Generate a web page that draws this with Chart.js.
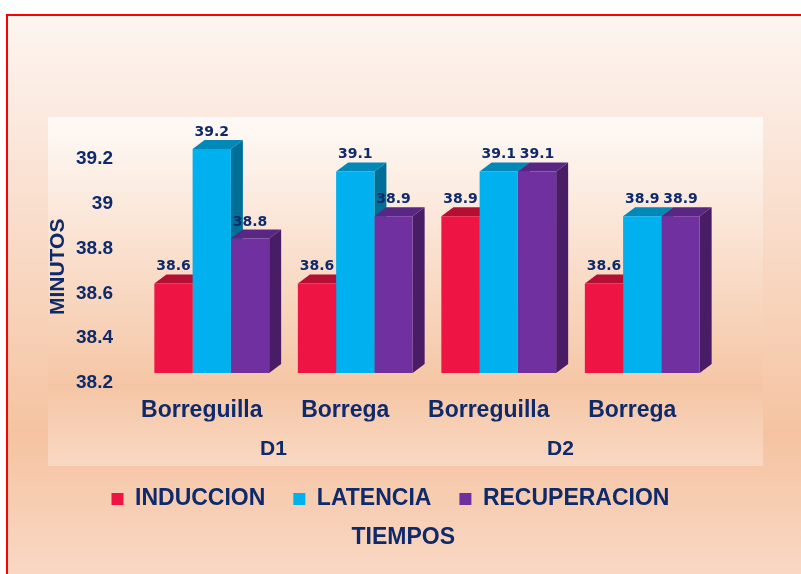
<!DOCTYPE html>
<html>
<head>
<meta charset="utf-8">
<script src="https://cdn.jsdelivr.net/npm/chart.js@4.4.0/dist/chart.umd.min.js"></script>
<style>
  html, body { margin: 0; padding: 0; background: #fff; }
  #wrap { width: 801px; height: 574px; }
</style>
</head>
<body>
<div id="wrap"><canvas id="tiemposChart" width="801" height="574"></canvas></div>
<script>
const categories = ['Borreguilla', 'Borrega', 'Borreguilla', 'Borrega'];
const groups = ['D1', 'D2'];
const induccion = [38.6, 38.6, 38.9, 38.6];
const latencia = [39.2, 39.1, 39.1, 38.9];
const recuperacion = [38.8, 38.9, 39.1, 38.9];
const yTicks = [38.2, 38.4, 38.6, 38.8, 39, 39.2];

const navy = '#0f2a6b';
const arial = '"Liberation Sans", Arial, sans-serif';
const depthX = 12, depthY = 9;

// page background, red frame and the lighter plot box
const background = {
    id: 'background',
    beforeDraw(chart) {
        const ctx = chart.ctx;
        const W = chart.width, H = chart.height;
        ctx.save();
        ctx.fillStyle = '#ffffff';
        ctx.fillRect(0, 0, W, H);
        let g = ctx.createLinearGradient(0, 15, 0, H);
        g.addColorStop(0, '#fdf5f0');
        g.addColorStop(0.2, '#fbe8dd');
        g.addColorStop(0.75, '#f5c3a1');
        g.addColorStop(1, '#f9d8c4');
        ctx.fillStyle = g;
        ctx.fillRect(7, 15, W - 7, H - 15);
        ctx.fillStyle = '#ff0000';
        ctx.fillRect(6, 14, W - 6, 2);
        ctx.fillRect(6, 14, 2, H - 14);
        g = ctx.createLinearGradient(0, 117, 0, 466);
        g.addColorStop(0, '#fefaf7');
        g.addColorStop(0.77, '#f5c6a5');
        g.addColorStop(1, '#f9d8c3');
        ctx.fillStyle = g;
        ctx.fillRect(48, 117, 715, 349);
        ctx.restore();
    }
};

// top and side faces of each bar, then value labels
const bars3d = {
    id: 'bars3d',
    beforeDatasetsDraw(chart) {
        const ctx = chart.ctx;
        ctx.save();
        for (let i = 0; i < chart.data.labels.length; i++) {
            chart.data.datasets.forEach((ds, d) => {
                const bar = chart.getDatasetMeta(d).data[i];
                const left = bar.x - bar.width / 2, right = bar.x + bar.width / 2;
                const top = bar.y, base = bar.base;
                ctx.fillStyle = ds.sideColor;
                ctx.beginPath();
                ctx.moveTo(right, top);
                ctx.lineTo(right + depthX, top - depthY);
                ctx.lineTo(right + depthX, base - depthY);
                ctx.lineTo(right, base);
                ctx.closePath();
                ctx.fill();
                ctx.fillStyle = ds.topColor;
                ctx.beginPath();
                ctx.moveTo(left, top);
                ctx.lineTo(left + depthX, top - depthY);
                ctx.lineTo(right + depthX, top - depthY);
                ctx.lineTo(right, top);
                ctx.closePath();
                ctx.fill();
            });
        }
        ctx.restore();
    },
    afterDatasetsDraw(chart) {
        const ctx = chart.ctx;
        ctx.save();
        ctx.font = 'bold 14px "DejaVu Sans", Verdana, sans-serif';
        ctx.fillStyle = navy;
        ctx.textAlign = 'center';
        ctx.textBaseline = 'alphabetic';
        chart.data.datasets.forEach((ds, d) => {
            chart.getDatasetMeta(d).data.forEach((bar, i) => {
                ctx.fillText(String(ds.data[i]), bar.x, bar.y - 13);
            });
        });
        ctx.restore();
    }
};

const data = {
    labels: categories,
    datasets: [{
        label: 'INDUCCION',
        data: induccion,
        backgroundColor: '#ee1443',
        topColor: '#b30f33',
        sideColor: '#9e0c2c'
    }, {
        label: 'LATENCIA',
        data: latencia,
        backgroundColor: '#00b0ef',
        topColor: '#0088b8',
        sideColor: '#006f98'
    }, {
        label: 'RECUPERACION',
        data: recuperacion,
        backgroundColor: '#7030a0',
        topColor: '#5a2683',
        sideColor: '#481d66'
    }]
};

const config = {
    type: 'bar',
    data: data,
    options: {
        responsive: false,
        animation: false,
        events: [],
        datasets: {
            bar: { categoryPercentage: 0.8, barPercentage: 1, borderWidth: 0, base: yTicks[0] }
        },
        layout: { padding: { left: 44, right: 64, top: 149, bottom: 23 } },
        scales: {
            x: {
                weight: 0,
                offset: true,
                grid: { display: false, drawTicks: false },
                border: { display: false },
                afterFit: function (scale) { scale.height = 48.6; },
                ticks: {
                    color: navy,
                    font: { family: arial, size: 23, weight: 'bold' },
                    padding: 24,
                    labelOffset: -10,
                    maxRotation: 0,
                    autoSkip: false
                }
            },
            x2: {
                type: 'category',
                labels: groups,
                position: 'bottom',
                weight: 1,
                offset: true,
                grid: { display: false, drawTicks: false },
                border: { display: false },
                afterFit: function (scale) { scale.height = 37.8; },
                ticks: {
                    color: navy,
                    font: { family: arial, size: 21, weight: 'bold' },
                    padding: 15,
                    labelOffset: -10,
                    maxRotation: 0
                }
            },
            y: {
                min: yTicks[0],
                max: yTicks[yTicks.length - 1],
                grid: { display: false, drawTicks: false },
                border: { display: false },
                afterBuildTicks: function (scale) {
                    scale.ticks = yTicks.map(v => ({ value: v }));
                },
                afterFit: function (scale) { scale.width = 96; },
                ticks: {
                    color: navy,
                    font: { family: arial, size: 19, weight: 'bold' },
                    padding: 27,
                    labelOffset: 10,
                    callback: v => String(v)
                },
                title: {
                    display: true,
                    text: 'MINUTOS\u00a0\u00a0',
                    color: navy,
                    font: { family: arial, size: 21, weight: 'bold' },
                    padding: { top: 2, bottom: 0 }
                }
            },
            yRight: {
                type: 'linear',
                position: 'right',
                grid: { display: false, drawTicks: false },
                border: { display: false },
                ticks: { display: false },
                afterFit: function (scale) { scale.width = 23; }
            }
        },
        plugins: {
            legend: {
                position: 'bottom',
                labels: {
                    color: navy,
                    font: { family: arial, size: 23, weight: 'bold' },
                    boxWidth: 12,
                    boxHeight: 12,
                    padding: 28
                }
            },
            title: {
                display: true,
                position: 'bottom',
                text: '\u00a0\u00a0\u00a0\u00a0TIEMPOS',
                color: navy,
                font: { family: arial, size: 23, weight: 'bold' },
                padding: { top: 3, bottom: 0 }
            },
            tooltip: { enabled: false }
        }
    },
    plugins: [background, bars3d]
};

new Chart(document.getElementById('tiemposChart'), config);
</script>
</body>
</html>
